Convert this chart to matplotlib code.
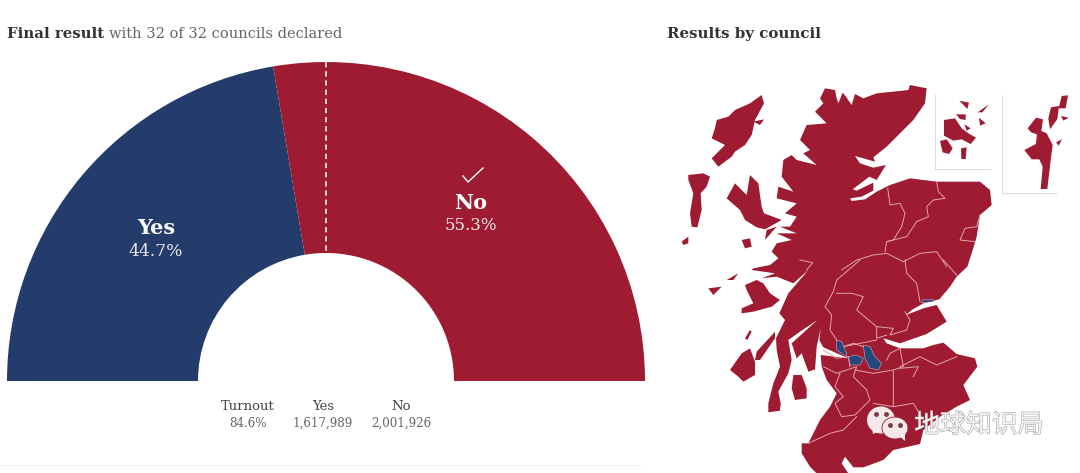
import matplotlib
matplotlib.use('Agg')
import matplotlib.pyplot as plt
from matplotlib.patches import Polygon, Ellipse
import matplotlib.patheffects as pe

# Result figures
categories = ['Yes', 'No']
shares = [44.7, 55.3]
votes = ['1,617,989', '2,001,926']
turnout = '84.6%'

NAVY = '#243c6b'
RED = '#9e1b32'
BOUND = '#e3a3ae'
SERIF = 'DejaVu Serif'

# Map outlines. north_* points are in crop units
# starting at (660, 70), south_* points in crop units starting at (660, 260)
north_coast = [(495, 55), (525, 60), (530, 85), (535, 100), (548, 68), (558, 80), (575, 105), (585, 72), (610, 85),
               (650, 70), (700, 65), (745, 60), (750, 45), (800, 55), (795, 100), (760, 150), (720, 190),
               (680, 230), (640, 262), (645, 275), (585, 258), (600, 280), (640, 293), (678, 285), (650, 330),
               (628, 320), (578, 358), (590, 362), (640, 338), (640, 362), (605, 380), (570, 385), (575, 393),
               (615, 388), (650, 365), (690, 345), (750, 325), (830, 335), (960, 335), (990, 360), (995, 405),
               (960, 435), (950, 500), (935, 550), (922, 590)]
south_coast = [(890, 50), (870, 80), (838, 118), (790, 130), (755, 150), (738, 165), (790, 145), (830, 135),
               (860, 185), (800, 222), (720, 250), (670, 235), (680, 250), (720, 265), (790, 265), (820, 255),
               (850, 248), (890, 282), (945, 295), (952, 320), (910, 375), (930, 420), (890, 440), (840, 470),
               (790, 510), (780, 552), (700, 570), (670, 600), (610, 622), (580, 622), (555, 590), (545, 610),
               (565, 640), (470, 640), (450, 620), (425, 580), (425, 550), (445, 550), (480, 480), (510, 440),
               (530, 400), (500, 360), (485, 320), (482, 285), (565, 295), (490, 262), (478, 240), (482, 205),
               (470, 260), (465, 330), (440, 320), (425, 280), (410, 295), (395, 250), (472, 180), (420, 215),
               (385, 240), (395, 300), (385, 340), (355, 395), (362, 430), (360, 452), (325, 457), (325, 430),
               (340, 370), (360, 320), (350, 270), (348, 235), (375, 180), (358, 160), (385, 100), (445, 30),
               (400, 70), (350, 50), (305, 55), (345, 40), (275, 30)]
west_coast = [(280, 595), (330, 585), (355, 565), (335, 545), (350, 520), (395, 510), (350, 490), (410, 490),
              (360, 470), (390, 470), (410, 440), (375, 430), (410, 400), (350, 385), (355, 350), (400, 365),
              (365, 320), (370, 270), (395, 255), (410, 270), (470, 285), (430, 250), (450, 240), (420, 210),
              (440, 165), (500, 160), (465, 125), (490, 100), (480, 85)]

north_islands = [
    [(305, 75), (312, 100), (285, 150), (275, 195), (255, 225), (225, 245), (215, 260), (175, 290), (155, 265),
     (195, 225), (155, 205), (165, 175), (170, 150), (205, 140), (225, 120), (270, 100)],
    [(280, 155), (312, 148), (300, 165)],
    [(85, 315), (130, 310), (150, 320), (140, 350), (122, 370), (125, 420), (112, 472), (95, 470), (90, 430),
     (100, 370), (85, 330)],
    [(65, 515), (85, 500), (85, 520), (70, 525)],
    [(270, 315), (295, 340), (305, 410), (312, 430), (365, 450), (315, 478), (290, 472), (255, 450), (240, 420),
     (200, 385), (225, 340), (260, 375)],
    [(245, 510), (270, 505), (275, 530), (255, 535)],
    [(320, 480), (350, 470), (315, 510)],
    # Orkney
    [(852, 150), (885, 145), (905, 175), (925, 190), (948, 203), (932, 222), (905, 208), (880, 212), (852, 197)],
    [(840, 213), (860, 208), (878, 235), (867, 252), (848, 247)],
    [(903, 235), (920, 232), (917, 267), (904, 267)],
    [(898, 92), (927, 98), (922, 117)],
    [(957, 143), (977, 160), (960, 167)],
    [(953, 127), (987, 103), (967, 127)],
    [(913, 163), (932, 175), (920, 182)],
    [(888, 133), (917, 133), (917, 150), (900, 147)],
    # Shetland
    [(1160, 190), (1178, 225), (1172, 270), (1162, 357), (1142, 357), (1148, 290), (1138, 268), (1115, 268),
     (1093, 240), (1128, 222), (1132, 178)],
    [(1173, 112), (1197, 108), (1192, 147), (1170, 178), (1165, 145)],
    [(1205, 78), (1224, 76), (1217, 115), (1196, 115)],
    [(1103, 175), (1128, 143), (1149, 148), (1142, 197), (1113, 187)],
    [(1188, 217), (1206, 208), (1196, 227)],
    [(1203, 138), (1226, 143), (1210, 152)],
]
south_islands = [
    [(210, 330), (245, 280), (270, 265), (285, 305), (285, 345), (250, 365), (235, 350)],
    [(285, 300), (290, 275), (345, 215), (345, 235), (300, 300)],
    [(145, 85), (185, 80), (160, 105)],
    [(200, 60), (235, 40), (220, 60)],
    [(400, 345), (425, 345), (440, 385), (440, 415), (405, 420), (395, 385)],
    [(255, 235), (270, 210), (275, 215), (262, 240)],
    [(430, 290), (445, 285), (460, 330), (445, 335)],
    [(255, 75), (290, 60), (310, 70), (330, 100), (360, 120), (335, 140), (280, 155), (245, 160), (245, 145),
     (280, 130), (270, 110), (260, 90)],
]
yes_councils = [
    [(565, 290), (590, 285), (610, 295), (600, 315), (570, 315)],
    [(530, 240), (545, 245), (560, 280), (560, 290), (530, 270)],
    [(610, 255), (630, 260), (645, 290), (665, 310), (655, 330), (630, 325), (615, 295)],
    [(785, 128), (790, 118), (820, 118), (820, 125)],
]
north_borders = [
    [(683, 355), (690, 405), (720, 400), (735, 430), (725, 470), (700, 510), (680, 515), (675, 545)],
    [(830, 335), (835, 365), (855, 385), (820, 390), (800, 410), (805, 440), (770, 455), (740, 500), (680, 515)],
    [(960, 435), (950, 470), (915, 475), (900, 510), (945, 515)],
    [(545, 600), (590, 570), (640, 555), (680, 550), (730, 575), (780, 550), (830, 545), (860, 590)],
    [(420, 570), (458, 578), (440, 600)],
]
south_borders = [
    [(600, 0), (530, 60), (520, 95), (495, 140), (515, 165), (510, 210), (530, 240)],
    [(530, 100), (575, 100), (610, 110), (590, 150), (650, 200), (650, 235), (680, 225)],
    [(735, 0), (740, 40), (770, 70), (780, 125)],
    [(850, 0), (890, 45)],
    [(650, 200), (700, 205), (690, 225), (740, 210), (750, 180), (735, 155)],
    [(720, 265), (730, 320), (700, 330), (700, 440), (640, 430)],
    [(720, 320), (780, 290), (830, 315), (890, 290)],
    [(760, 350), (775, 320), (720, 325)],
    [(700, 440), (760, 430), (790, 480)],
    [(490, 320), (530, 340), (590, 320), (580, 350), (620, 390), (630, 420), (585, 465), (545, 470), (525, 430),
     (550, 410), (525, 380), (540, 340)],
    [(445, 550), (510, 520), (550, 510), (590, 470)],
    [(585, 330), (640, 340), (700, 330)],
    [(490, 270), (530, 295), (565, 290), (570, 320)],
    [(610, 260), (580, 250), (550, 260), (650, 240)],
    [(680, 300), (690, 280), (720, 265)],
]


def north(points):
    return [(660 + x / 3, 70 + y / 3) for x, y in points]


def south(points):
    return [(660 + x / 3, 260 + y / 3) for x, y in points]


# Whole figure is one axes in pixel units, y pointing down
fig = plt.figure(figsize=(10.8, 4.73), dpi=100)
ax = fig.add_axes([0, 0, 1, 1])

wedges, _ = ax.pie([s / 200 for s in shares], colors=[NAVY, RED], center=(326, 381), radius=319,
                   startangle=180, counterclock=True, normalize=False,
                   wedgeprops={'width': 191, 'linewidth': 0})
ax.set_xlim(0, 1080)
ax.set_ylim(473, 0)
ax.set_aspect('equal')
ax.axis('off')

# 50% line
ax.plot([326, 326], [62, 253], color='white', lw=1.1, dashes=(3.5, 2.5))

# Titles
ax.text(7, 34, 'Final result', fontsize=10.7, family=SERIF, weight='bold', color='#333333', va='center')
ax.text(109, 34, 'with 32 of 32 councils declared', fontsize=10.55, family=SERIF, color='#666666', va='center')
ax.text(667, 34, 'Results by council', fontsize=10.85, family=SERIF, weight='bold', color='#333333', va='center')

# Labels on the wedges
ax.text(156, 228, categories[0], fontsize=15, family=SERIF, weight='bold', color='white', ha='center', va='center')
ax.text(156, 251, f'{shares[0]}%', fontsize=12.3, family=SERIF, color='#f2e8ea', ha='center', va='center')
ax.text(471, 203, categories[1], fontsize=15, family=SERIF, weight='bold', color='white', ha='center', va='center')
ax.text(471, 225, f'{shares[1]}%', fontsize=12, family=SERIF, color='#f2e8ea', ha='center', va='center')
ax.plot([463, 468, 483], [176, 182, 168], color='white', lw=1)

# Turnout block
for x, head, val in zip([248, 323, 401], ['Turnout'] + categories, [turnout] + votes):
    ax.text(x, 406, head, fontsize=9.5, family=SERIF, color='#444444', ha='center', va='center')
    ax.text(x, 423, val, fontsize=8.6, family=SERIF, color='#666666', ha='center', va='center')
ax.plot([0, 640], [465, 465], color='#f1f1f1', lw=0.8)

# Map
mainland = north(north_coast) + south(south_coast) + north(west_coast)
ax.add_patch(Polygon(mainland, closed=True, fc=RED, ec='none'))
for isl in north_islands:
    ax.add_patch(Polygon(north(isl), closed=True, fc=RED, ec='none'))
for isl in south_islands:
    ax.add_patch(Polygon(south(isl), closed=True, fc=RED, ec='none'))
for line in north_borders:
    ax.plot(*zip(*north(line)), color=BOUND, lw=0.7)
for line in south_borders:
    ax.plot(*zip(*south(line)), color=BOUND, lw=0.7)
for c in yes_councils:
    ax.add_patch(Polygon(south(c), closed=True, fc='#23497f', ec=BOUND, lw=0.4))

# Inset frames for Orkney and Shetland
ax.plot(*zip(*north([(826, 75), (826, 298), (990, 298)])), color='#dcdcdc', lw=0.8)
ax.plot(*zip(*north([(1026, 75), (1026, 368), (1187, 368)])), color='#dcdcdc', lw=0.8)

# WeChat watermark
ax.add_patch(Ellipse((881, 420), 28, 27, fc='#f5e8ea', ec='none', zorder=5))
ax.add_patch(Polygon([(872, 428), (873, 434), (881, 431)], fc='#f5e8ea', ec='none', zorder=5))
ax.add_patch(Ellipse((895, 428), 26, 22, fc='#f5e8ea', ec=RED, lw=0.6, zorder=6))
ax.add_patch(Polygon([(899, 436), (905, 441), (905, 433)], fc='#f5e8ea', ec='none', zorder=6))
ax.plot([876, 886, 890, 900], [414, 414, 425, 425], ls='none', marker='o', ms=2.5, color='#7a3a46', zorder=7)
ax.text(979, 425, '地球知识局', fontsize=18.6, family=['Noto Sans CJK SC', 'DejaVu Sans'], color='#f6f2f2',
        ha='center', va='center', zorder=8,
        path_effects=[pe.withStroke(linewidth=0.7, foreground='#999999')])

fig.savefig('out.png', dpi=100, facecolor='white')
